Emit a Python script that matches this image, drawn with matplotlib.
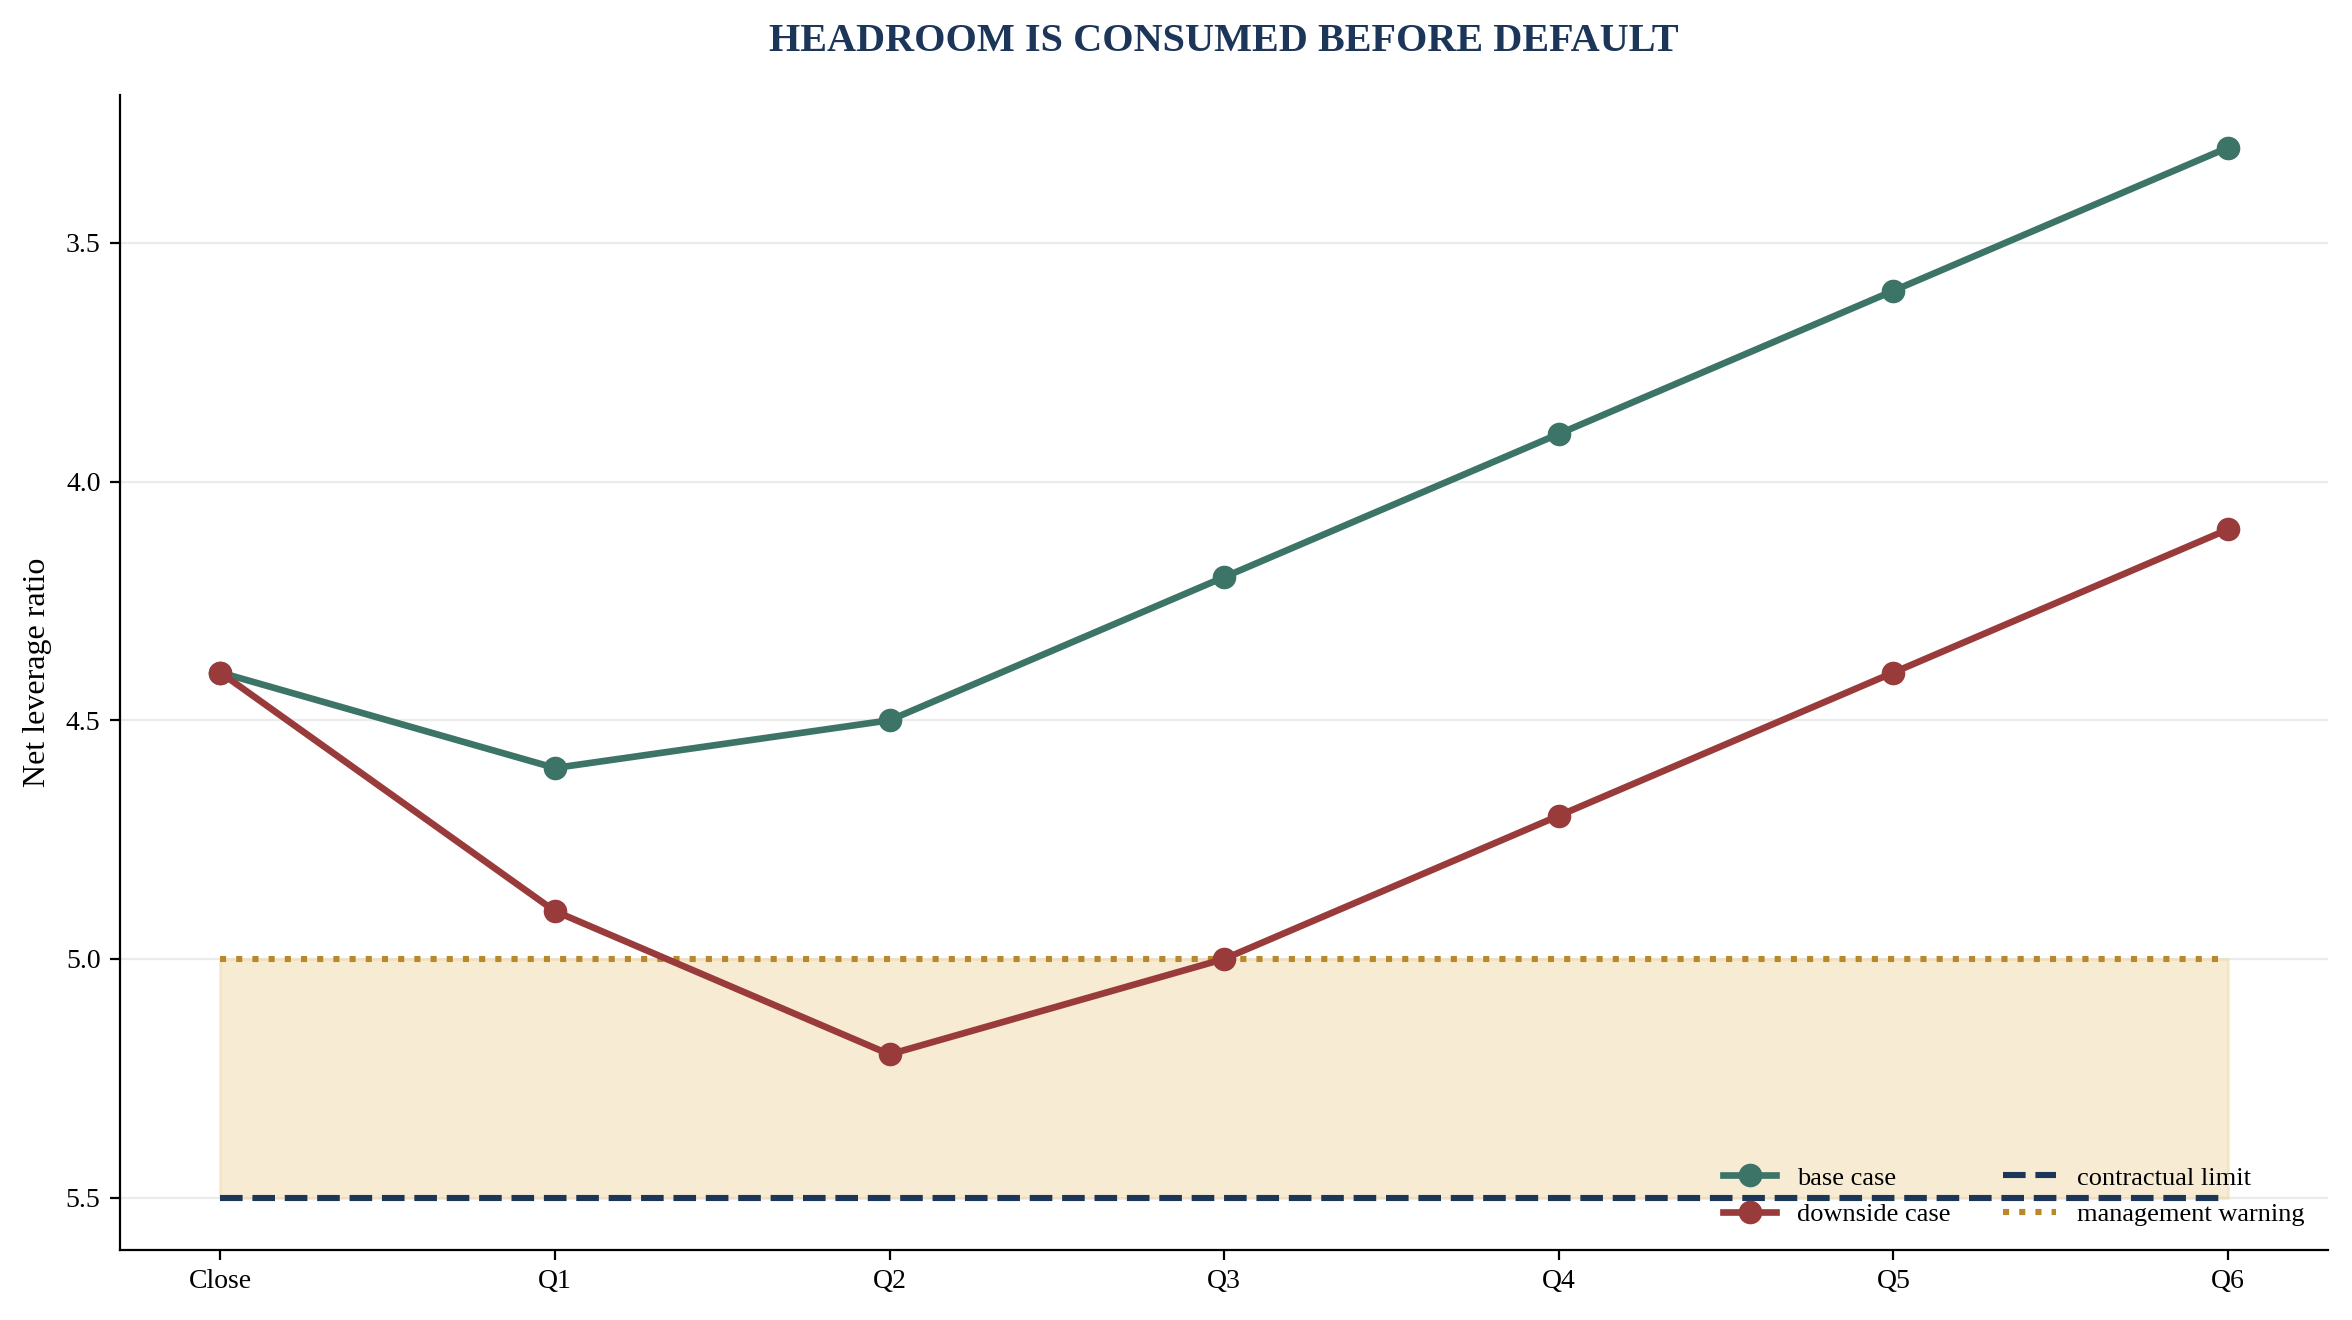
import numpy as np
import matplotlib.pyplot as plt

# values
periods = ["Close", "Q1", "Q2", "Q3", "Q4", "Q5", "Q6"]
base_case = [4.4, 4.6, 4.5, 4.2, 3.9, 3.6, 3.3]
downside_case = [4.4, 4.9, 5.2, 5.0, 4.7, 4.4, 4.1]
contractual_limit = 5.5
management_warning = 5.0

plt.rcParams['font.family'] = ['Liberation Serif', 'DejaVu Serif']

fig, ax = plt.subplots(figsize=(11.76, 6.6), dpi=200)
fig.subplots_adjust(left=0.051, right=0.99, top=0.928, bottom=0.053)

x = np.arange(len(periods))

ax.fill_between(x, management_warning, contractual_limit, color='#f0d9a8', alpha=0.5, linewidth=1, zorder=1)
ax.plot(x, base_case, color='#3d7468', lw=2.4, marker='o', ms=7.5, label='base case', zorder=4)
ax.plot(x, downside_case, color='#9a3b3b', lw=2.4, marker='o', ms=7.5, label='downside case', zorder=4)
ax.plot(x, [contractual_limit] * len(x), color='#1c3659', lw=2.2, ls='--', label='contractual limit', zorder=3)
ax.plot(x, [management_warning] * len(x), color='#b8892a', lw=2.2, ls=':', label='management warning', zorder=3)

ax.invert_yaxis()
ax.set_yticks([3.5, 4.0, 4.5, 5.0, 5.5])
ax.set_xticks(x)
ax.set_xticklabels(periods)
ax.tick_params(labelsize=10)
ax.set_ylabel('Net leverage ratio', fontsize=11.5, labelpad=5)
ax.grid(axis='y', color='#ebebeb', lw=0.8)
ax.set_axisbelow(True)
for s in ['top', 'right']:
    ax.spines[s].set_visible(False)

ax.set_title('HEADROOM IS CONSUMED BEFORE DEFAULT', fontsize=14.5, fontweight='bold', color='#1c3659', pad=16)
ax.legend(loc='lower right', ncol=2, frameon=False, fontsize=9.5)

fig.savefig('out.png', dpi=200)
